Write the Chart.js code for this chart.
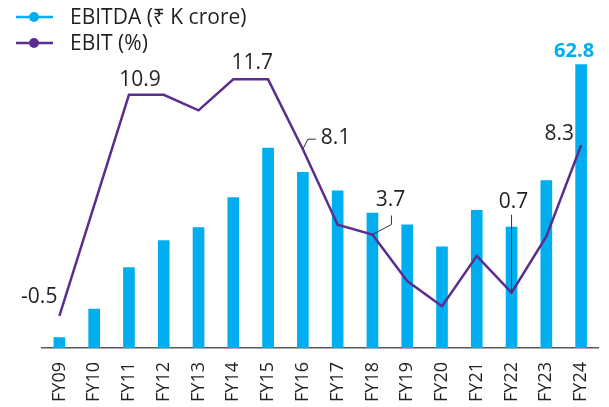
<!DOCTYPE html>
<html>
<head>
<meta charset="utf-8">
<script src="https://cdn.jsdelivr.net/npm/chart.js@4.4.1/dist/chart.umd.min.js"></script>
<style>
  html, body { margin: 0; padding: 0; background: #fff; }
  #wrap { width: 609px; height: 407px; position: relative; }
</style>
</head>
<body>
<div id="wrap"><canvas id="mycanvas" width="609" height="407"></canvas></div>
<script>
// values
var years = ["FY09","FY10","FY11","FY12","FY13","FY14","FY15","FY16","FY17","FY18","FY19","FY20","FY21","FY22","FY23","FY24"];
var ebitda = [2.3, 8.6, 17.8, 23.8, 26.7, 33.3, 44.3, 38.9, 34.8, 29.9, 27.3, 22.4, 30.5, 26.8, 37.1, 62.8];
var ebitPct = [-0.5, 5.2, 10.9, 10.9, 10.1, 11.7, 11.7, 8.1, 4.2, 3.7, 1.3, 0.0, 2.6, 0.7, 3.6, 8.3];

var seriesNames = ["EBITDA (\u20B9 K crore)", "EBIT (%)"];
var barColor = "#00AEEF";
var lineColor = "#5B2D8E";
var FONT = "'Open Sans', 'Noto Sans', sans-serif";

// which line points get a value label (index : placement)
var lineLabels = [
  {i: 0,  dx: -2, dy: -19, align: "right"},
  {i: 2,  dx: 11, dy: -15, align: "center"},
  {i: 5,  dx: 19, dy: -16, align: "center"},
  {i: 7,  dx: 18, dy: -11, align: "left", lead: [[5,-10],[13,-10]]},
  {i: 9,  dx: 18, dy: -35, align: "center", lead: [[19,-10],[19,-19]]},
  {i: 13, dx: 2,  dy: -91, align: "center", lead: [[0,-78]]},
  {i: 15, dx: -7, dy: -11, align: "right"}
];

var labelPlugin = {
  id: "labels",
  afterDatasetsDraw: function(chart) {
    var ctx = chart.ctx;
    var xs = chart.scales.x, yl = chart.scales.y1, yb = chart.scales.y;
    ctx.save();
    ctx.font = "21px " + FONT;
    ctx.textBaseline = "middle";
    ctx.fillStyle = "#231F20";
    lineLabels.forEach(function(l) {
      var px = xs.getPixelForValue(l.i);
      var py = yl.getPixelForValue(ebitPct[l.i]);
      if (l.lead) {
        ctx.strokeStyle = "#333";
        ctx.lineWidth = 1;
        ctx.beginPath();
        ctx.moveTo(px, py);
        l.lead.forEach(function(p) { ctx.lineTo(px + p[0], py + p[1]); });
        ctx.stroke();
      }
      ctx.textAlign = l.align;
      ctx.fillText(ebitPct[l.i].toFixed(1), px + l.dx, py + l.dy);
    });
    // last bar value
    var last = ebitda.length - 1;
    ctx.font = "bold 20px " + FONT;
    ctx.fillStyle = barColor;
    ctx.textAlign = "center";
    ctx.fillText(ebitda[last].toFixed(1), xs.getPixelForValue(last) - 7, yb.getPixelForValue(ebitda[last]) - 13);
    ctx.restore();
  }
};

// legend: EBITDA first, then EBIT
var legendPlugin = {
  id: "myLegend",
  afterDraw: function(chart) {
    var ctx = chart.ctx;
    var items = [chart.data.datasets[1], chart.data.datasets[0]];
    ctx.save();
    items.forEach(function(ds, k) {
      var y = 17 + k * 26;
      var col = ds.legendColor;
      ctx.strokeStyle = col;
      ctx.lineWidth = 2.5;
      ctx.beginPath();
      ctx.moveTo(16, y); ctx.lineTo(53, y);
      ctx.stroke();
      ctx.fillStyle = col;
      ctx.beginPath();
      ctx.arc(34, y, 5, 0, Math.PI * 2);
      ctx.fill();
      ctx.fillStyle = "#231F20";
      ctx.font = "21px " + FONT;
      ctx.textAlign = "left";
      ctx.textBaseline = "middle";
      ctx.fillText(ds.label, 70, y + 1);
    });
    ctx.restore();
  }
};

var chartdata = {
  labels: years,
  datasets: [
    {
      type: "line",
      label: seriesNames[1],
      data: ebitPct,
      yAxisID: "y1",
      borderColor: lineColor,
      legendColor: lineColor,
      borderWidth: 2.5,
      pointRadius: 0,
      tension: 0,
      order: 0
    },
    {
      type: "bar",
      label: seriesNames[0],
      data: ebitda,
      yAxisID: "y",
      backgroundColor: barColor,
      legendColor: barColor,
      barThickness: 11,
      order: 1
    }
  ]
};

var ctx = document.getElementById("mycanvas");
var chart = new Chart(ctx, {
  data: chartdata,
  options: {
    responsive: false,
    animation: false,
    devicePixelRatio: 1,
    layout: { padding: { left: 42, right: 9, top: 32, bottom: 0 } },
    plugins: { legend: { display: false }, tooltip: { enabled: false } },
    scales: {
      x: {
        grid: { display: false },
        border: { display: true, color: "#595959", width: 1.5 },
        ticks: {
          color: "#231F20",
          font: { family: FONT, size: 18 },
          minRotation: 90, maxRotation: 90,
          padding: 6
        },
        afterFit: function(s) { s.height = 59; }
      },
      y: { display: false, min: 0, max: 70 },
      y1: { display: false, min: -2.15, max: 14.14 }
    }
  },
  plugins: [labelPlugin, legendPlugin]
});
</script>
</body>
</html>
